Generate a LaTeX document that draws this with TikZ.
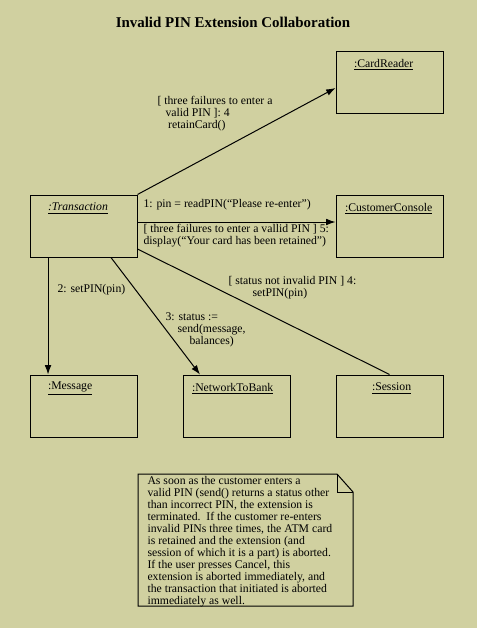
\documentclass[tikz,border=0pt]{standalone}
\usepackage{fontspec}
\setmainfont{Liberation Serif}
\usetikzlibrary{positioning}
\usetikzlibrary{arrows.meta}
\definecolor{umlbg}{RGB}{208,208,160}
\tikzset{node distance=135pt and 114.75pt, % Vertical and horizontal spacing of the objects
msg/.style={ % Sets the properties for each message text
font=\fontsize{8.8}{9}\selectfont,
inner sep=0pt,
align=left},
objname/.style={msg, anchor=west, yshift=-10.5pt},
object/.style 2 args={ % Box of a collaborating object, name shifted by #1
draw,
minimum width=80.25pt,
minimum height=46.5pt,
label={[objname, xshift=#1]north west:\underline{#2}}},
every edge/.style={ % Sets the properties for each message link
draw,
-{Latex[length=7pt,width=5pt]}}}

\begin{document}
\begin{tikzpicture}[x=0.75pt,y=-0.75pt,line width=0.75pt,on grid]
  \fill[umlbg] (0,0) rectangle (477,628);
  \node[font=\bfseries\fontsize{11.2}{13}\selectfont] (title) at (233,22) {Invalid PIN Extension Collaboration};

  \node[object={13.5pt}{\textit{:Transaction}}]  (trans)   at (83.5,226)          {};
  \node[object={13.5pt}{:Message}]               (message) [below=of trans]       {};
  \node[object={6.75pt}{:NetworkToBank}]         (network) [right=of message]     {};
  \node[object={27pt}{:Session}]                 (session) [right=of network]     {};
  \node[object={6.75pt}{:CustomerConsole}]       (console) [above=of session]     {};
  \node[object={13.5pt}{:CardReader}]            (reader)  [above=108pt of console] {};

  \path (trans.north east)             edge ([yshift=-4.5pt]reader.west)
        ([yshift=3pt]trans.east)       edge ([yshift=3pt]console.west)
        ([xshift=-26.6pt]trans.south)  edge ([xshift=-26.6pt]message.north)
        ([xshift=20.6pt]trans.south)   edge ([xshift=-27.4pt]network.north)
        ([yshift=-17.25pt]trans.east)  edge [-] (session.north);

  \node[msg, anchor=north west] (retain)  at (157,96)  {[ three failures to enter a\\\hspace*{6pt}valid PIN ]: 4\\\hspace*{8pt}retainCard()};
  \node[msg, anchor=west]       (read)    at (143,205) {1: pin = readPIN(“Please re-enter”)};
  \node[msg, anchor=north west] (display) at (143,224) {[ three failures to enter a vallid PIN ] 5:\\display(“Your card has been retained”)};
  \node[msg, anchor=west]       (setpin)  at (57,290)  {2: setPIN(pin)};
  \node[msg, anchor=north west] (send)    at (165,312) {3: status :=\\\hspace*{9pt}send(message,\\\hspace*{18pt}balances)};
  \node[msg, anchor=north west] (status)  at (228,276) {[ status not invalid PIN ] 4:\\\hspace*{18pt}setPIN(pin)};

  % note with folded corner
  \draw (138,474) -- (337,474) -- (353,492) -- (353,606) -- (138,606) -- cycle;
  \draw (337,474) -- (337,492) -- (353,492);
  \node[msg, anchor=north west] (note) at (147,476) {As soon as the customer enters a\\
    valid PIN (send() returns a status other\\
    than incorrect PIN, the extension is\\
    terminated.\ \ If the customer re-enters\\
    invalid PINs three times, the ATM card\\
    is retained and the extension (and\\
    session of which it is a part) is aborted.\\
    If the user presses Cancel, this\\
    extension is aborted immediately, and\\
    the transaction that initiated is aborted\\
    immediately as well.};
\end{tikzpicture}
\end{document}
